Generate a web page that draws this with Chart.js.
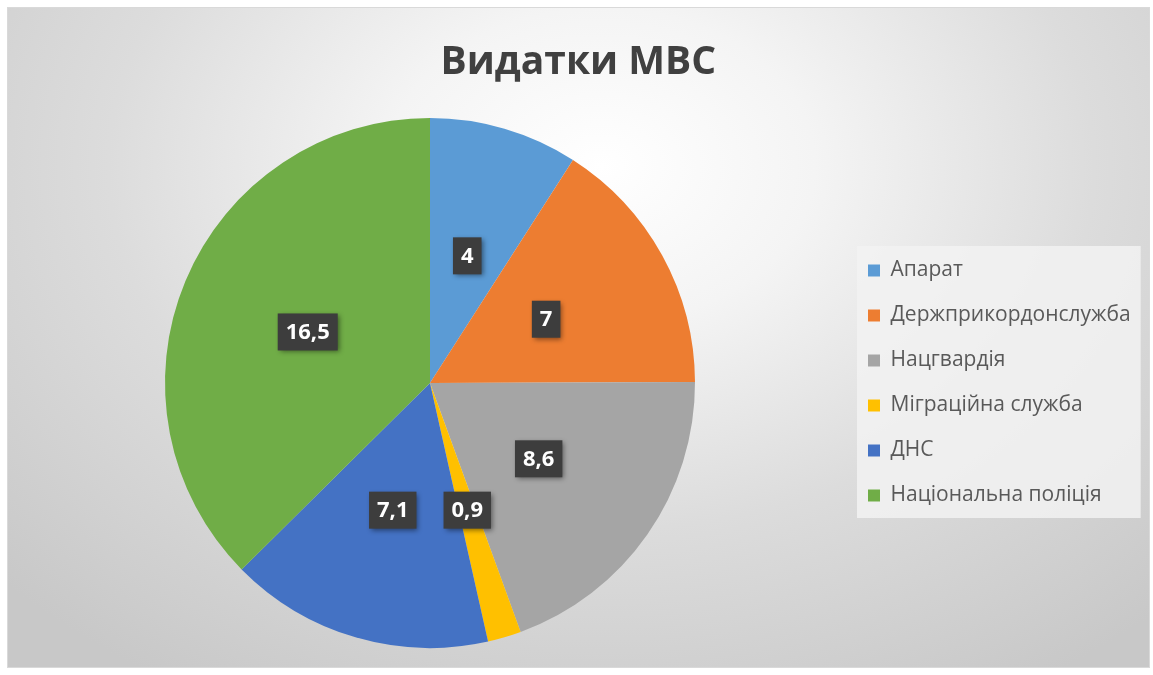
<!DOCTYPE html>
<html lang="uk">
<head>
<meta charset="utf-8">
<title>Видатки МВС</title>
<script src="https://cdn.jsdelivr.net/npm/chart.js@4.4.1/dist/chart.umd.min.js"></script>
<style>
  html, body { margin: 0; padding: 0; background: #fff; }
  #frame {
    position: absolute; left: 7px; top: 7px; width: 1141px; height: 659px;
    border: 1px solid #d9d9d9;
    background: radial-gradient(ellipse 72% 92% at 52% 24%, #ffffff 0%, #f4f4f4 26%, #dcdcdc 60%, #c8c8c8 100%);
  }
  #chart { position: absolute; left: 0; top: 0; }
</style>
</head>
<body>
<div id="frame"></div>
<canvas id="chart" width="1153" height="675"></canvas>
<script>
// --- data ---
const categories = ['Апарат', 'Держприкордонслужба', 'Нацгвардія', 'Міграційна служба', 'ДНС', 'Національна поліція'];
const values = [4, 7, 8.6, 0.9, 7.1, 16.5];
const sliceColors = ['#5B9BD5', '#ED7D31', '#A5A5A5', '#FFC000', '#4472C4', '#70AD47'];

const legendSize = 21;
const legendFont = legendSize + 'px "Open Sans"';
const legendPad = 45 - legendSize;
const boxSize = 12;

// legend width is worked out by Chart.js from text; measure it so the pie lands in the same spot
const m = document.createElement('canvas').getContext('2d');
m.font = legendFont;
const maxText = Math.max(...categories.map(c => m.measureText(c).width));
const legendW = legendPad + boxSize + legendSize / 2 + maxText + 10;
const legendLeft = 868 - legendPad;
const padRight = Math.max(0, 1153 - legendLeft - legendW);
const padLeft = 2 * 430 - legendLeft;

// value boxes, dark with a soft shadow
const valueLabels = {
    id: 'valueLabels',
    afterDatasetsDraw(chart) {
        const ctx = chart.ctx;
        const meta = chart.getDatasetMeta(0);
        ctx.save();
        ctx.font = 'bold 22px "Open Sans"';
        ctx.textAlign = 'center';
        ctx.textBaseline = 'middle';
        meta.data.forEach((arc, i) => {
            const p = arc.tooltipPosition();
            const txt = String(values[i]).replace('.', ',');
            const w = ctx.measureText(txt).width + 16;
            const h = 37;
            ctx.shadowColor = 'rgba(0,0,0,0.45)';
            ctx.shadowBlur = 5;
            ctx.shadowOffsetX = 2;
            ctx.shadowOffsetY = 2;
            ctx.fillStyle = '#3d3d3d';
            ctx.fillRect(p.x - w / 2, p.y - h / 2, w, h);
            ctx.shadowColor = 'transparent';
            ctx.fillStyle = '#ffffff';
            ctx.fillText(txt, p.x, p.y + 1);
        });
        ctx.restore();
    }
};

// light panel behind the legend
const legendPanel = {
    id: 'legendPanel',
    beforeDraw(chart) {
        const hb = chart.legend && chart.legend.legendHitBoxes;
        if (!hb || !hb.length) return;
        const first = hb[0], last = hb[hb.length - 1];
        const left = first.left - 11;
        const right = Math.max(...hb.map(b => b.left + b.width)) + 10;
        const top = first.top - 14;
        const bottom = last.top + last.height + 12;
        const ctx = chart.ctx;
        ctx.save();
        ctx.fillStyle = 'rgba(242,242,242,0.85)';
        ctx.fillRect(left, top, right - left, bottom - top);
        ctx.restore();
    }
};

new Chart(document.getElementById('chart'), {
    type: 'pie',
    data: {
        labels: categories,
        datasets: [{
            data: values,
            backgroundColor: sliceColors,
            borderWidth: 0
        }]
    },
    options: {
        responsive: false,
        animation: false,
        events: [],
        layout: { padding: { left: padLeft, right: padRight, top: 0, bottom: 27 } },
        plugins: {
            title: {
                display: true,
                text: 'Видатки МВС',
                color: '#404040',
                font: { family: '"Open Sans"', size: 39, weight: 'bold', lineHeight: 1.2 },
                padding: { top: 39, bottom: 32.2 }
            },
            legend: {
                position: 'right',
                fullSize: false,
                labels: {
                    color: '#595959',
                    font: { family: '"Open Sans"', size: legendSize },
                    boxWidth: boxSize,
                    boxHeight: boxSize,
                    padding: legendPad
                }
            },
            tooltip: { enabled: false }
        }
    },
    plugins: [legendPanel, valueLabels]
});
</script>
</body>
</html>
